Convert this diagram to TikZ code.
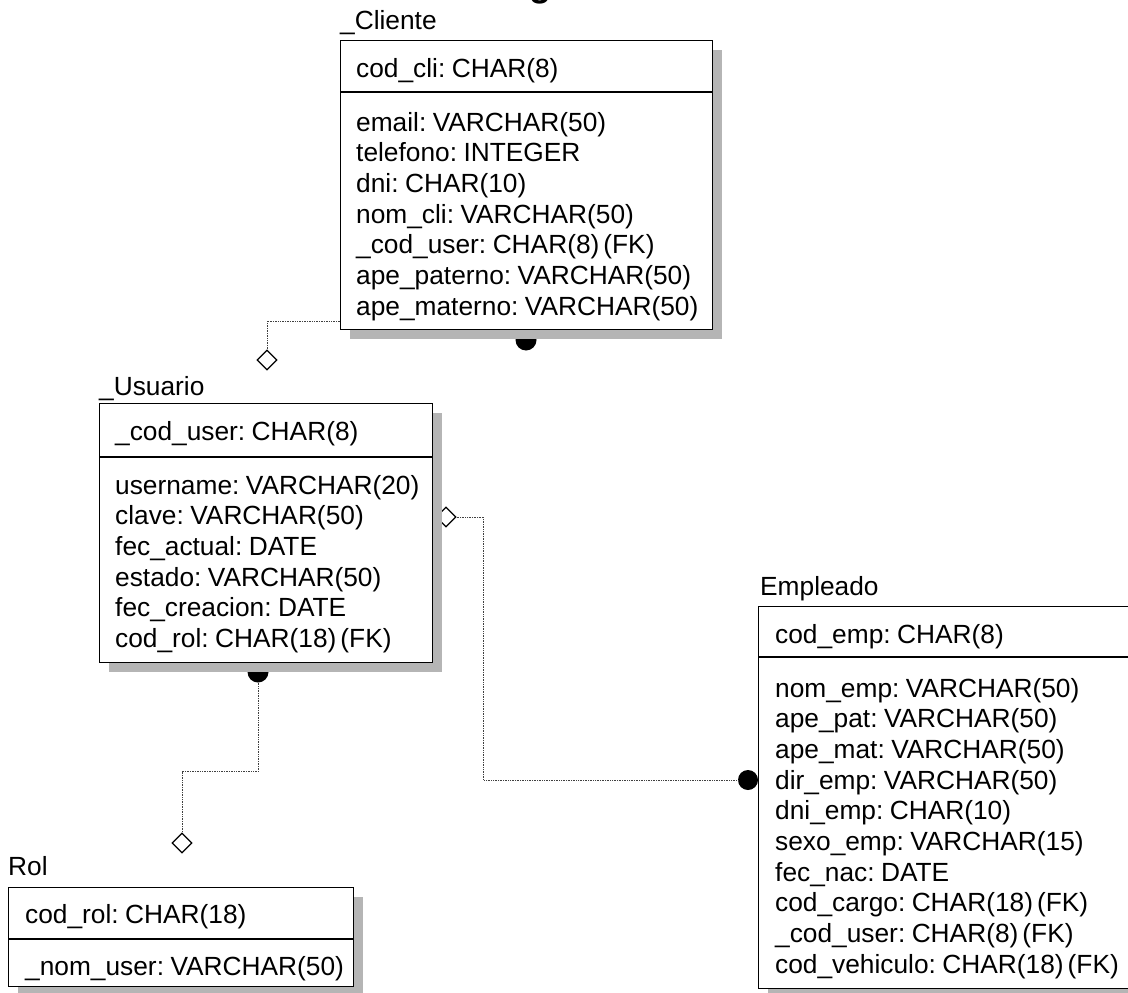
\documentclass[tikz,border=0pt]{standalone}
\usepackage{fontspec}
\setmainfont[WordSpace=0.55]{Liberation Sans}
\usetikzlibrary{shapes.geometric}
\begin{document}
\begin{tikzpicture}[x=1pt,y=-1pt,
  tbl/.style={draw, line width=1.3pt, fill=white, inner sep=0pt, anchor=north west},
  shd/.style={fill=gray!58, draw=none},
  sep/.style={line width=1.3pt},
  attr/.style={anchor=base west, inner sep=0pt, font=\fontsize{26.3}{30}\selectfont},
  rel/.style={densely dotted, line width=0.7pt, black!75},
  fkd/.style={diamond, draw, line width=1.2pt, fill=white, minimum width=20pt, minimum height=20pt, inner sep=0pt},
  pkdot/.style={circle, fill=black, minimum size=21pt, inner sep=0pt}]
\useasboundingbox (0,0) rectangle (1128,993);
\fill[white] (0,0) rectangle (1128,993);

% partial title, cut off by the page top
\node[anchor=base, inner sep=0pt, font=\fontsize{36}{40}\selectfont\bfseries] (title) at (540,-3) {g};

% ---------- dots and diamonds behind shadows ----------
\node[pkdot] (dcli) at (526,340) {};
\node[pkdot] (dusu) at (258,672) {};
\node[fkd] (fusu) at (446,517) {};

% ---------- shadows ----------
\fill[shd] (350,50) rectangle (722,339);
\fill[shd] (109,413) rectangle (442,672);
\fill[shd] (18,897) rectangle (363,996);
\fill[shd] (768,616) rectangle (1140,998);

% ---------- _Cliente ----------
\node[attr] (tcli) at (340,30) {\_Cliente};
\node[tbl, minimum width=372pt, minimum height=289pt] (cli) at (340,40) {};
\draw[sep] (340,92) -- (712,92);
\node[attr] (cli0) at (356,77) {cod\_cli: CHAR(8)};
\node[attr] (cli1) at (356,131) {email: VARCHAR(50)};
\node[attr] (cli2) at (356,161.7) {telefono: INTEGER};
\node[attr] (cli3) at (356,192.4) {dni: CHAR(10)};
\node[attr] (cli4) at (356,223.1) {nom\_cli: VARCHAR(50)};
\node[attr] (cli5) at (356,253.8) {\_cod\_user: CHAR(8) (FK)};
\node[attr] (cli6) at (356,284.5) {ape\_paterno: VARCHAR(50)};
\node[attr] (cli7) at (356,315.2) {ape\_materno: VARCHAR(50)};

% ---------- _Usuario ----------
\node[attr] (tusu) at (99,395) {\_Usuario};
\node[tbl, minimum width=333pt, minimum height=259pt] (usu) at (99,403) {};
\draw[sep] (99,457) -- (432,457);
\node[attr] (usu0) at (115,440) {\_cod\_user: CHAR(8)};
\node[attr] (usu1) at (115,494) {username: VARCHAR(20)};
\node[attr] (usu2) at (115,524.7) {clave: VARCHAR(50)};
\node[attr] (usu3) at (115,555.4) {fec\_actual: DATE};
\node[attr] (usu4) at (115,586.1) {estado: VARCHAR(50)};
\node[attr] (usu5) at (115,616.8) {fec\_creacion: DATE};
\node[attr] (usu6) at (115,647.5) {cod\_rol: CHAR(18) (FK)};

% ---------- Rol ----------
\node[attr] (trol) at (8,875) {Rol};
\node[tbl, minimum width=345pt, minimum height=99pt] (rol) at (8,887) {};
\draw[sep] (8,939) -- (353,939);
\node[attr] (rol0) at (25,923) {cod\_rol: CHAR(18)};
\node[attr] (rol1) at (25,975) {\_nom\_user: VARCHAR(50)};

% ---------- Empleado ----------
\node[attr] (temp) at (760,595) {Empleado};
\node[tbl, minimum width=372pt, minimum height=382pt] (emp) at (758,606) {};
\draw[sep] (758,657) -- (1130,657);
\node[attr] (emp0) at (775,643) {cod\_emp: CHAR(8)};
\node[attr] (emp1) at (775,697) {nom\_emp: VARCHAR(50)};
\node[attr] (emp2) at (775,727.7) {ape\_pat: VARCHAR(50)};
\node[attr] (emp3) at (775,758.4) {ape\_mat: VARCHAR(50)};
\node[attr] (emp4) at (775,789.1) {dir\_emp: VARCHAR(50)};
\node[attr] (emp5) at (775,819.8) {dni\_emp: CHAR(10)};
\node[attr] (emp6) at (775,850.5) {sexo\_emp: VARCHAR(15)};
\node[attr] (emp7) at (775,881.2) {fec\_nac: DATE};
\node[attr] (emp8) at (775,911.9) {cod\_cargo: CHAR(18) (FK)};
\node[attr] (emp9) at (775,942.6) {\_cod\_user: CHAR(8) (FK)};
\node[attr] (emp10) at (775,973.3) {cod\_vehiculo: CHAR(18) (FK)};

% ---------- connector ends ----------
\node[fkd] (fcli) at (267,360) {};
\node[fkd] (frol) at (182,843) {};
\node[pkdot, minimum size=20pt] (demp) at (748,780) {};
\coordinate (ccli) at (340,321);

% ---------- connectors ----------
\draw[rel] (ccli) -| (fcli.north);
\draw[rel] (fusu.east) -- ++(27,0) |- (demp.west);
\draw[rel] (dusu.south) -- ++(0,89) -| (frol.north);
\end{tikzpicture}
\end{document}
